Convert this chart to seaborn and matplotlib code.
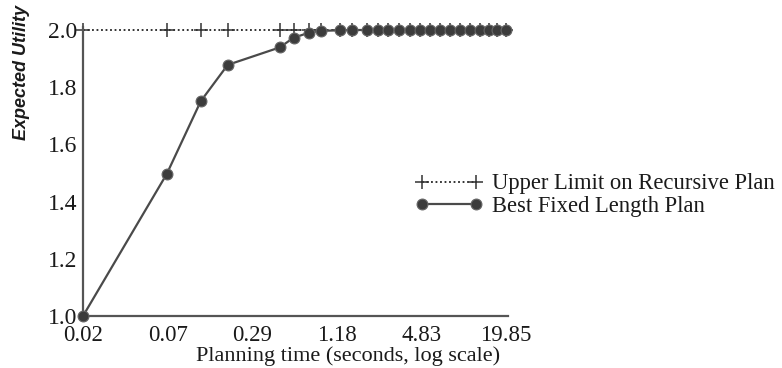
import numpy as np
import pandas as pd
import matplotlib
matplotlib.use("Agg")
import matplotlib.pyplot as plt
import seaborn as sns

# Planning time (seconds) at which each plan was evaluated
planning_time = [0.0171, 0.0692, 0.1219, 0.1911, 0.4544, 0.5737, 0.7364, 0.899,
                 1.254, 1.532, 1.967, 2.362, 2.790, 3.351, 4.023, 4.753, 5.615,
                 6.631, 7.832, 9.253, 10.93, 12.91, 14.99, 17.13, 19.85]
# Expected utility of the best fixed-length plan
fixed_utility = [1.0, 1.497, 1.751, 1.878, 1.939, 1.973, 1.990, 1.997,
                 1.999, 2.0, 2.0, 2.0, 2.0, 2.0, 2.0, 2.0, 2.0,
                 2.0, 2.0, 2.0, 2.0, 2.0, 2.0, 2.0, 2.0]
# Upper limit on the recursive plan
upper_utility = [2.0] * len(planning_time)

x_tick_values = [0.0171, 0.0702, 0.288, 1.18, 4.84, 19.85]
x_tick_labels = ["0.02", "0.07", "0.29", "1.18", "4.83", "19.85"]
y_ticks = [1.0, 1.2, 1.4, 1.6, 1.8, 2.0]

sns.set_theme(style="white")
plt.rcParams["font.family"] = ["Liberation Serif", "DejaVu Serif"]

df = pd.DataFrame({"time": planning_time, "fixed": fixed_utility,
                   "upper": upper_utility})

fig = plt.figure(figsize=(7.82, 3.68), dpi=100)
ax = fig.add_axes([83 / 782, 1 - 316 / 368, (508 - 83) / 782, (316 - 30) / 368])

sns.lineplot(data=df, x="time", y="upper", ax=ax, color="#222222",
             linestyle=(0, (1, 1.5)), linewidth=1.3, marker="+",
             markersize=10, markeredgewidth=1.1, markeredgecolor="#333333",
             clip_on=False, zorder=2, label="Upper Limit on Recursive Plan")
sns.lineplot(data=df, x="time", y="fixed", ax=ax, color="#4a4a4a",
             linewidth=1.6, marker="o", markersize=7.8,
             markerfacecolor="#3c3c3c", markeredgecolor="#666666",
             markeredgewidth=0.8, clip_on=False, zorder=3,
             label="Best Fixed Length Plan")

ax.set_xscale("log")
ax.set_xlim(0.0171, 20.5)
ax.set_ylim(1.0, 2.0)
ax.set_xticks(x_tick_values)
ax.set_xticklabels(x_tick_labels)
ax.minorticks_off()
ax.set_yticks(y_ticks)
ax.set_yticklabels([f"{v:.1f}" for v in y_ticks])
ax.tick_params(axis="y", length=0, labelsize=17, colors="#1a1a1a", pad=4)
ax.tick_params(axis="x", length=0, labelsize=16.5, colors="#1a1a1a", pad=6.5)
for lbl in ax.get_yticklabels():
    lbl.set_verticalalignment("center_baseline")

for side in ("top", "right"):
    ax.spines[side].set_visible(False)
for side in ("left", "bottom"):
    ax.spines[side].set_color("#555555")
    ax.spines[side].set_linewidth(1.6)
ax.spines["left"].set_bounds(1.0, 2.01)

ax.set_xlabel("Planning time (seconds, log scale)", fontsize=16,
              color="#1a1a1a", labelpad=0, x=(348 - 83) / 425)
ax.set_ylabel("")
fig.text(22 / 782, 1 - 72 / 368, "Expected Utility", rotation=90,
         ha="center", va="center", fontsize=13, fontweight="bold",
         fontstyle="italic", family=["Liberation Sans", "DejaVu Sans"],
         color="#1a1a1a")

ax.get_legend().remove()
handles, labels = ax.get_legend_handles_labels()
fig.legend(handles, labels, loc="center left",
           bbox_to_anchor=(415 / 782, 1 - 195 / 368), frameon=False,
           fontsize=16.3, handlelength=3.0, handletextpad=0.4, numpoints=2,
           borderpad=0, borderaxespad=0, labelspacing=0.05,
           labelcolor="#1a1a1a")

fig.savefig("out.png", dpi=100)
